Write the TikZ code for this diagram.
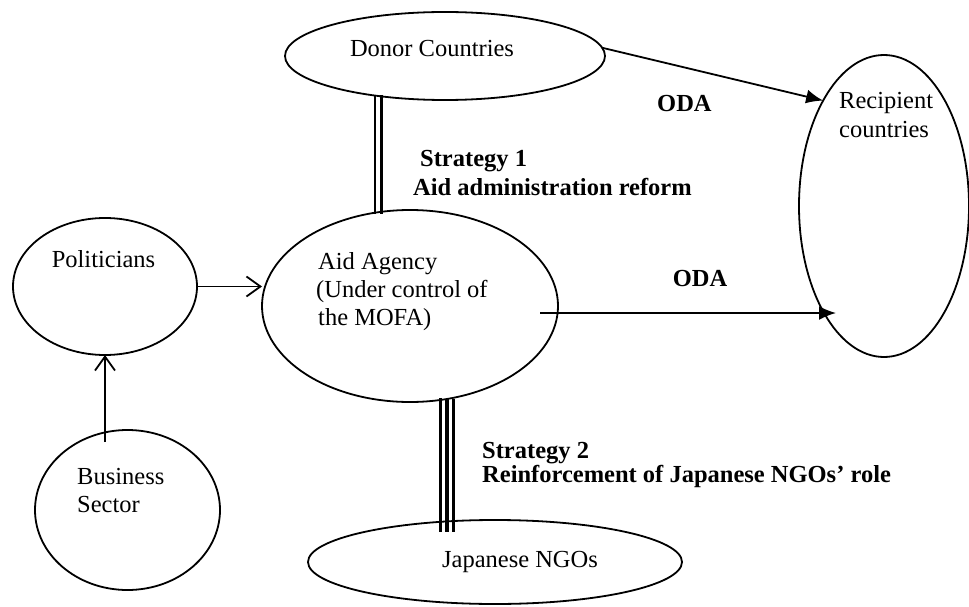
\documentclass[tikz,border=0pt]{standalone}
\usepackage{fontspec}
\setmainfont{Liberation Serif}
\usetikzlibrary{arrows.meta,calc,shapes.geometric}
\begin{document}
\begin{tikzpicture}[x=1pt,y=-1pt,
  ell/.style={draw, ellipse, line width=1.8pt, inner sep=0pt, outer sep=0pt},
  txt/.style={font=\fontsize{24.5}{28.5}\selectfont, inner sep=0pt},
  btxt/.style={font=\fontsize{24.5}{28.5}\selectfont\bfseries, inner sep=0pt},
  conn/.style={line width=1.8pt},
  openarrow/.style={conn, -{Straight Barb[length=14pt,width=20pt,line width=1.8pt]}},
  filledarrow/.style={conn, -{Latex[length=17pt,width=14pt]}},
  dblline/.style={line width=2.2pt},
  tripline/.style={line width=3.2pt}
]
\useasboundingbox (0,0) rectangle (969,607);

% ellipses
\node[ell, minimum width=320pt, minimum height=88pt]  (don) at (445,56)  {};
\node[ell, minimum width=170pt, minimum height=302pt] (rec) at (884,206) {};
\node[ell, minimum width=184pt, minimum height=137pt] (pol) at (105,286.5) {};
\node[ell, minimum width=185pt, minimum height=160pt] (bus) at (127.5,510) {};
\node[ell, minimum width=296pt, minimum height=192pt] (aid) at (410,306) {};
\node[ell, minimum width=374pt, minimum height=84pt]  (ngo) at (495,562) {};

% texts
\node[txt, anchor=base] (tdon) at (432,57) {Donor Countries};
\node[txt, anchor=base west] (trec1) at (839,109) {Recipient};
\node[txt, anchor=base west] (trec2) at (839,138) {countries};
\node[txt, anchor=base] (tpol) at (103.5,267) {Politicians};
\node[txt, anchor=base west] (tbus1) at (77,484) {Business};
\node[txt, anchor=base west] (tbus2) at (77,512) {Sector};
\node[txt, anchor=base west] (taid1) at (318,269) {Aid Agency};
\node[txt, anchor=base west] (taid2) at (316,297) {(Under control of};
\node[txt, anchor=base west] (taid3) at (318,325) {the MOFA)};
\node[txt, anchor=base] (tngo) at (520,567) {Japanese NGOs};

\node[btxt, anchor=base west] (tst1a) at (420,167) {Strategy 1};
\node[btxt, anchor=base west] (tst1b) at (413,195) {Aid administration reform};
\node[btxt, anchor=base west] (toda1) at (657,112) {ODA};
\node[btxt, anchor=base] (toda2) at (700,286) {ODA};
\node[btxt, anchor=base west] (tst2a) at (482,458) {Strategy 2};
\node[btxt, anchor=base west] (tst2b) at (482,482) {Reinforcement of Japanese NGOs’ role};

% connectors
\draw[filledarrow] (don.3) -- (rec.120);
\draw[filledarrow] ($(aid.east)+(-18,7)$) -- ($(rec.west)+(37,107)$);
\draw[openarrow] (pol.east) -- (pol.east -| aid.west);
\draw[openarrow] ($(pol.south |- bus.north)+(0,12)$) -- (pol.south);

% double line (strategy 1)
\coordinate (dA) at (375,0);
\coordinate (dB) at (381.5,0);
\draw[dblline] ($(don.south -| dA)+(0,-5)$) -- ($(aid.north -| dA)+(0,4)$);
\draw[dblline] ($(don.south -| dB)+(0,-5)$) -- ($(aid.north -| dB)+(0,4)$);

% triple line (strategy 2)
\coordinate (tA) at (440.5,0);
\coordinate (tB) at (447,0);
\coordinate (tC) at (453.5,0);
\draw[tripline] ($(aid.south -| tA)+(0,-4)$) -- ($(ngo.north -| tA)+(0,12)$);
\draw[tripline] ($(aid.south -| tB)+(0,-3)$) -- ($(ngo.north -| tB)+(0,12)$);
\draw[tripline] ($(aid.south -| tC)+(0,-3)$) -- ($(ngo.north -| tC)+(0,12)$);
\end{tikzpicture}
\end{document}
